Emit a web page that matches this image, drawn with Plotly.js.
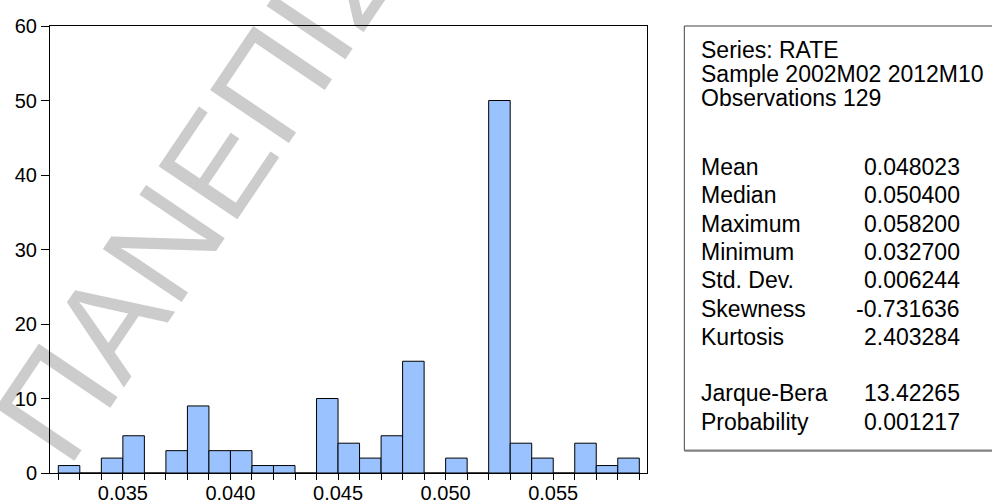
<!DOCTYPE html>
<html><head><meta charset="utf-8">
<script src="https://cdn.plot.ly/plotly-3.0.1.min.js"></script>
<style>html,body{margin:0;padding:0;background:#fff;} #chart{width:992px;height:504px;}</style>
</head><body><div id="chart"></div>
<script>
// ---- data ----
const binCenters = [0.0325,0.0335,0.0345,0.0355,0.0365,0.0375,0.0385,0.0395,0.0405,0.0415,0.0425,0.0435,0.0445,0.0455,0.0465,0.0475,0.0485,0.0495,0.0505,0.0515,0.0525,0.0535,0.0545,0.0555,0.0565,0.0575,0.0585];
const counts     = [1,0,2,5,0,3,9,3,3,1,1,0,10,4,2,5,15,0,2,0,50,4,2,0,4,1,2];
const xTickVals  = [0.032,0.033,0.034,0.035,0.036,0.037,0.038,0.039,0.040,0.041,0.042,0.043,0.044,0.045,0.046,0.047,0.048,0.049,0.050,0.051,0.052,0.053,0.054,0.055,0.056,0.057,0.058,0.059];
const xTickText  = ['','','','0.035','','','','','0.040','','','','','0.045','','','','','0.050','','','','','0.055','','','',''];
const yTickVals  = [0,10,20,30,40,50,60];
const headerLines = ['Series: RATE','Sample 2002M02 2012M10','Observations 129'];
const statNames  = ['Mean','Median','Maximum','Minimum','Std. Dev.','Skewness','Kurtosis','Jarque-Bera','Probability'];
const statValues = ['0.048023','0.050400','0.058200','0.032700','0.006244','-0.731636','2.403284','13.42265','0.001217'];
const watermarkText = 'ΠΑΝΕΠΙΣΤΗΜΙΟ';

// ---- layout geometry (pixels) ----
const L=50, R=646.7, T=25.7, B=472.7;
const pw=R-L, ph=B-T;
const px=x=>(x-L)/pw, py=y=>(B-y)/ph;
const FONT='Arial, "Liberation Sans", sans-serif';

const headerY=[49.3,73.3,98];
const statY=[166.7,195,223.3,251.6,279.9,308.2,336.5,393.1,421.4];

const annotations=[];
annotations.push({xref:'paper',yref:'paper',x:px(322),y:py(8),xanchor:'center',yanchor:'middle',text:watermarkText,textangle:-56,showarrow:false,font:{family:FONT,size:138,color:'rgb(204,204,204)'}});
headerLines.forEach((t,i)=>annotations.push({xref:'paper',yref:'paper',x:px(699),y:py(headerY[i]),xanchor:'left',yanchor:'middle',text:t,showarrow:false,font:{family:FONT,size:23,color:'#000'}}));
statNames.forEach((t,i)=>{
  annotations.push({xref:'paper',yref:'paper',x:px(699),y:py(statY[i]),xanchor:'left',yanchor:'middle',text:t,showarrow:false,font:{family:FONT,size:23,color:'#000'}});
  annotations.push({xref:'paper',yref:'paper',x:px(962),y:py(statY[i]),xanchor:'right',yanchor:'middle',text:statValues[i],showarrow:false,font:{family:FONT,size:23,color:'#000'}});
});

const shapes=[
  {type:'rect',xref:'paper',yref:'paper',x0:px(684),x1:px(1010),y0:py(450),y1:py(25.7),line:{color:'#444',width:1},fillcolor:'rgba(0,0,0,0)'},
  {type:'line',xref:'paper',yref:'paper',x0:px(684),x1:px(1010),y0:py(450.5),y1:py(450.5),line:{color:'#808080',width:2}}
];

const trace={type:'bar',x:binCenters,y:counts,width:0.001,
  marker:{color:'rgb(153,194,255)',line:{color:'#000',width:1}},hoverinfo:'x+y'};

const layout={
  width:992,height:504,
  margin:{l:L,r:992-R,t:T,b:504-B,pad:0},
  paper_bgcolor:'#fff',plot_bgcolor:'#fff',
  showlegend:false,bargap:0,
  font:{family:FONT,size:20,color:'#000'},
  xaxis:{range:[0.031614,0.059358],tickmode:'array',tickvals:xTickVals,ticktext:xTickText,
    ticks:'outside',ticklen:6,tickwidth:1,tickcolor:'#000',showline:true,linecolor:'#000',linewidth:1,mirror:true,
    ticklabelstandoff:-4,
    showgrid:false,zeroline:false,tickfont:{family:FONT,size:20,color:'#000'}},
  yaxis:{range:[0,60],tickmode:'array',tickvals:yTickVals,ticks:'outside',ticklen:8,tickwidth:1,tickcolor:'#000',
    showline:true,linecolor:'#000',linewidth:1,mirror:true,showgrid:false,zeroline:false,
    tickfont:{family:FONT,size:20,color:'#000'}},
  annotations:annotations,shapes:shapes
};
Plotly.newPlot('chart',[trace],layout,{staticPlot:true,displayModeBar:false}).then(gd=>{
  // place the watermark beneath the axes and tick labels, as in the reference
  const wm=gd.querySelector('.infolayer .annotation[data-index="0"]');
  const bg=gd.querySelector('.main-svg .bglayer');
  if(wm&&bg){bg.appendChild(wm);}
});
</script></body></html>
